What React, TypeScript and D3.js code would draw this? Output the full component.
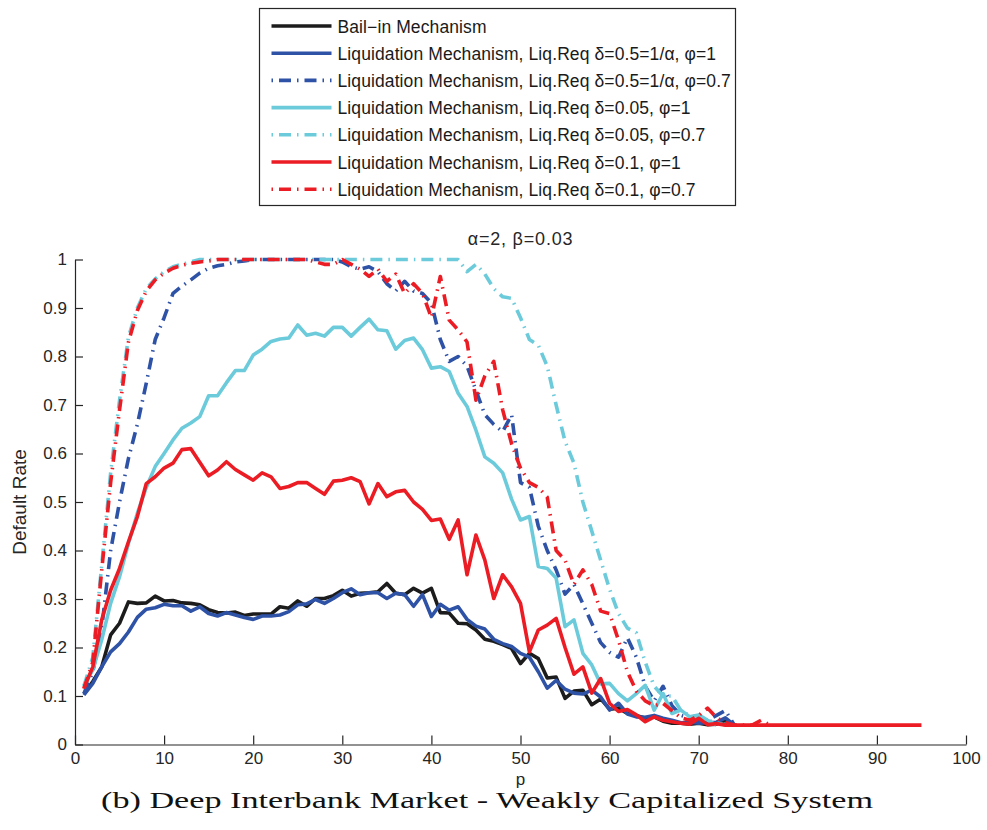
import * as d3 from "d3";
import { useEffect, useRef } from "react";

const width = 987;
const height = 830;
const margin = { top: 259.5, right: 21, bottom: 85.5, left: 75 };

const xTicks = [0, 10, 20, 30, 40, 50, 60, 70, 80, 90, 100];
const yTicks = [0, 0.1, 0.2, 0.3, 0.4, 0.5, 0.6, 0.7, 0.8, 0.9, 1];

// default rate for p = 1, 2, 3, ...
const bailIn = [
  0.105, 0.13, 0.16, 0.226, 0.25, 0.294, 0.291, 0.292, 0.306, 0.296,
  0.297, 0.292, 0.291, 0.288, 0.278, 0.272, 0.271, 0.273, 0.266, 0.269,
  0.269, 0.269, 0.284, 0.281, 0.296, 0.285, 0.301, 0.301, 0.307, 0.318,
  0.306, 0.312, 0.313, 0.315, 0.332, 0.312, 0.309, 0.322, 0.312, 0.322,
  0.272, 0.271, 0.25, 0.249, 0.236, 0.217, 0.213, 0.206, 0.198, 0.167,
  0.188, 0.177, 0.137, 0.139, 0.095, 0.11, 0.112, 0.082, 0.094, 0.073,
  0.075, 0.064, 0.06, 0.054, 0.057, 0.048, 0.044, 0.044, 0.042, 0.044,
  0.041, 0.042, 0.05, 0.04,
];

const liqHalf = [
  0.102, 0.126, 0.16, 0.191, 0.208, 0.232, 0.262, 0.279, 0.282, 0.289,
  0.286, 0.286, 0.275, 0.284, 0.27, 0.265, 0.272, 0.267, 0.262, 0.258,
  0.265, 0.265, 0.267, 0.274, 0.288, 0.29, 0.299, 0.291, 0.301, 0.313,
  0.321, 0.309, 0.313, 0.313, 0.301, 0.312, 0.309, 0.285, 0.309, 0.264,
  0.289, 0.277, 0.284, 0.258, 0.244, 0.238, 0.217, 0.208, 0.202, 0.188,
  0.18, 0.15, 0.116, 0.132, 0.114, 0.106, 0.104, 0.112, 0.098, 0.071,
  0.085, 0.063, 0.057, 0.056, 0.06, 0.054, 0.05, 0.045, 0.046, 0.044,
  0.045, 0.046, 0.055, 0.04,
];

const liqHalfPhi = [
  0.105, 0.15, 0.24, 0.4, 0.5, 0.59, 0.66, 0.745, 0.835, 0.88,
  0.93, 0.945, 0.958, 0.972, 0.982, 0.987, 0.99, 0.995, 0.997, 1,
  1, 1, 1, 1, 1, 1, 1, 1, 1, 0.995,
  0.985, 0.98, 0.985, 0.975, 0.95, 0.935, 0.955, 0.935, 0.93, 0.91,
  0.835, 0.79, 0.8, 0.78, 0.73, 0.68, 0.66, 0.645, 0.68, 0.54,
  0.53, 0.45, 0.4, 0.36, 0.31, 0.33, 0.29, 0.25, 0.21, 0.19,
  0.18, 0.22, 0.18, 0.12, 0.09, 0.12, 0.08, 0.06, 0.055, 0.05,
  0.05, 0.06, 0.07, 0.04,
];

const liqSmall = [
  0.122, 0.154, 0.216, 0.291, 0.346, 0.415, 0.477, 0.53, 0.573, 0.6,
  0.628, 0.652, 0.663, 0.676, 0.719, 0.719, 0.746, 0.771, 0.771, 0.803,
  0.815, 0.831, 0.836, 0.838, 0.865, 0.844, 0.848, 0.842, 0.86, 0.86,
  0.842, 0.86, 0.877, 0.855, 0.853, 0.815, 0.833, 0.838, 0.814, 0.776,
  0.779, 0.769, 0.724, 0.697, 0.648, 0.593, 0.58, 0.56, 0.506, 0.463,
  0.47, 0.367, 0.363, 0.343, 0.243, 0.257, 0.188, 0.164, 0.125, 0.126,
  0.105, 0.09, 0.105, 0.122, 0.071, 0.105, 0.064, 0.071, 0.057, 0.061,
  0.05, 0.04,
];

const liqSmallPhi = [
  0.12, 0.18, 0.37, 0.56, 0.71, 0.84, 0.9, 0.94, 0.96, 0.975,
  0.985, 0.99, 0.995, 1, 1, 1, 1, 1, 1, 1,
  1, 1, 1, 1, 1, 1, 1, 1, 1, 1,
  1, 1, 1, 1, 1, 1, 1, 1, 1, 1,
  1, 1, 1, 0.975, 0.99, 0.97, 0.94, 0.923, 0.92, 0.88,
  0.835, 0.823, 0.78, 0.7, 0.625, 0.58, 0.5, 0.44, 0.38, 0.32,
  0.27, 0.24, 0.23, 0.17, 0.12, 0.1, 0.1, 0.07, 0.06, 0.055,
  0.05, 0.045, 0.04,
];

const liqMid = [
  0.116, 0.16, 0.257, 0.318, 0.363, 0.418, 0.47, 0.538, 0.552, 0.57,
  0.58, 0.608, 0.61, 0.582, 0.554, 0.566, 0.583, 0.567, 0.556, 0.545,
  0.56, 0.552, 0.528, 0.532, 0.54, 0.54, 0.528, 0.516, 0.543, 0.545,
  0.55, 0.542, 0.496, 0.538, 0.511, 0.521, 0.524, 0.5, 0.485, 0.462,
  0.465, 0.423, 0.463, 0.35, 0.432, 0.38, 0.301, 0.35, 0.325, 0.291,
  0.191, 0.236, 0.246, 0.26, 0.2, 0.145, 0.16, 0.106, 0.136, 0.085,
  0.068, 0.072, 0.061, 0.047, 0.057, 0.05, 0.047, 0.044, 0.042, 0.054,
  0.041, 0.043, 0.04, 0.04, 0.04, 0.04, 0.04, 0.04, 0.04, 0.04,
  0.04, 0.04, 0.04, 0.04, 0.04, 0.04, 0.04, 0.04, 0.04, 0.04,
  0.04, 0.04, 0.04, 0.04, 0.04,
];

const liqMidPhi = [
  0.115, 0.17, 0.36, 0.54, 0.69, 0.83, 0.895, 0.935, 0.958, 0.972,
  0.982, 0.988, 0.992, 0.995, 0.997, 1, 1, 1, 1, 1,
  1, 1, 1, 1, 1, 1, 0.995, 0.99, 0.99, 1,
  0.99, 0.98, 0.965, 0.98, 0.955, 0.97, 0.93, 0.95, 0.93, 0.88,
  0.965, 0.875, 0.855, 0.83, 0.71, 0.76, 0.79, 0.69, 0.62, 0.57,
  0.54, 0.53, 0.51, 0.4, 0.38, 0.33, 0.36, 0.33, 0.275, 0.27,
  0.215, 0.15, 0.11, 0.09, 0.08, 0.085, 0.07, 0.055, 0.05, 0.06,
  0.075, 0.055, 0.045, 0.04, 0.04, 0.04, 0.05, 0.04,
];

const dashDot = "12,6,1.5,6";

const series = [
  { label: "Bail\u2212in Mechanism", values: bailIn, color: "#1c1c1c", dash: null },
  { label: "Liquidation Mechanism, Liq.Req \u03b4=0.5=1/\u03b1, \u03c6=1", values: liqHalf, color: "#2e52a6", dash: null },
  { label: "Liquidation Mechanism, Liq.Req \u03b4=0.5=1/\u03b1, \u03c6=0.7", values: liqHalfPhi, color: "#2e52a6", dash: dashDot },
  { label: "Liquidation Mechanism, Liq.Req \u03b4=0.05, \u03c6=1", values: liqSmall, color: "#6ccbdb", dash: null },
  { label: "Liquidation Mechanism, Liq.Req \u03b4=0.05, \u03c6=0.7", values: liqSmallPhi, color: "#6ccbdb", dash: dashDot },
  { label: "Liquidation Mechanism, Liq.Req \u03b4=0.1, \u03c6=1", values: liqMid, color: "#ec1c24", dash: null },
  { label: "Liquidation Mechanism, Liq.Req \u03b4=0.1, \u03c6=0.7", values: liqMidPhi, color: "#ec1c24", dash: dashDot },
];

const font = "'Liberation Sans', Arial, Helvetica, sans-serif";

export default function App() {
  const svgRef = useRef(null);

  useEffect(() => {
    if (!svgRef.current) return;
    drawChart(svgRef.current);
  }, []);

  return (
    <svg
      ref={svgRef}
      width={width}
      height={height}
      style={{ position: "absolute", left: 0, top: 0, background: "#fff" }}
    />
  );
}

function drawChart(svgElement) {
  const svg = d3.select(svgElement);
  svg.selectAll("*").remove();

  const plotRight = width - margin.right;
  const plotBottom = height - margin.bottom;

  const xScale = d3.scaleLinear().domain([0, 100]).range([margin.left, plotRight]);
  const yScale = d3.scaleLinear().domain([0, 1]).range([plotBottom, margin.top]);

  const line = d3
    .line()
    .x((d) => xScale(d[0]))
    .y((d) => yScale(d[1]));

  // curves
  const linesGroup = svg.append("g");
  series.forEach((s) => {
    linesGroup
      .append("path")
      .attr("d", line(s.values.map((v, i) => [i + 1, v])))
      .attr("fill", "none")
      .attr("stroke", s.color)
      .attr("stroke-width", 3.6)
      .attr("stroke-linejoin", "round")
      .attr("stroke-dasharray", s.dash);
  });

  // axes, ticks pointing inward
  const axisColor = "#262626";
  const xAxis = svg
    .append("g")
    .attr("transform", `translate(0, ${plotBottom})`)
    .call(
      d3
        .axisBottom(xScale)
        .tickValues(xTicks)
        .tickFormat((d) => String(d))
        .tickSizeInner(-9)
        .tickSizeOuter(0)
        .tickPadding(7)
    );
  const yAxis = svg
    .append("g")
    .attr("transform", `translate(${margin.left}, 0)`)
    .call(
      d3
        .axisLeft(yScale)
        .tickValues(yTicks)
        .tickFormat((d) => String(d))
        .tickSizeInner(-8)
        .tickSizeOuter(0)
        .tickPadding(8)
    );
  [xAxis, yAxis].forEach((g) => {
    g.select(".domain").attr("stroke", axisColor).attr("stroke-width", 1.2);
    g.selectAll(".tick line").attr("stroke", axisColor).attr("stroke-width", 1.2);
    g.selectAll(".tick text")
      .attr("fill", axisColor)
      .style("font-family", font)
      .style("font-size", "17px");
  });

  svg
    .append("text")
    .attr("x", (margin.left + plotRight) / 2)
    .attr("y", 245)
    .attr("text-anchor", "middle")
    .attr("fill", axisColor)
    .style("font-family", font)
    .style("font-size", "18px")
    .style("letter-spacing", "0.8px")
    .text("\u03b1=2, \u03b2=0.03");

  svg
    .append("text")
    .attr("x", (margin.left + plotRight) / 2)
    .attr("y", 785)
    .attr("text-anchor", "middle")
    .attr("fill", axisColor)
    .style("font-family", font)
    .style("font-size", "17px")
    .text("p");

  svg
    .append("text")
    .attr("transform", `translate(26, ${(margin.top + plotBottom) / 2}) rotate(-90)`)
    .attr("text-anchor", "middle")
    .attr("fill", axisColor)
    .style("font-family", font)
    .style("font-size", "19px")
    .text("Default Rate");

  svg
    .append("text")
    .attr("x", 101)
    .attr("y", 808)
    .attr("textLength", 772)
    .attr("lengthAdjust", "spacingAndGlyphs")
    .attr("fill", "#111")
    .style("font-family", "'Liberation Serif', 'DejaVu Serif', serif")
    .style("font-size", "23px")
    .text("(b) Deep Interbank Market - Weakly Capitalized System");

  // legend
  const legend = svg.append("g").attr("transform", "translate(259.5, 8.5)");
  legend
    .append("rect")
    .attr("width", 476)
    .attr("height", 197)
    .attr("fill", "#fff")
    .attr("stroke", "#262626")
    .attr("stroke-width", 1.2);

  const items = legend
    .selectAll("g.item")
    .data(series)
    .join("g")
    .attr("class", "item")
    .attr("transform", (_, i) => `translate(0, ${17.5 + i * 27.2})`);

  items
    .append("line")
    .attr("x1", 12)
    .attr("x2", 72)
    .attr("stroke", (d) => d.color)
    .attr("stroke-width", 3.6)
    .attr("stroke-dasharray", (d) => (d.dash ? "1.5,6,12,6" : null));

  items
    .append("text")
    .attr("x", 78)
    .attr("y", 6.5)
    .attr("fill", "#1a1a1a")
    .style("font-family", font)
    .style("font-size", "17.5px")
    .style("letter-spacing", "0.1px")
    .text((d) => d.label);
}
